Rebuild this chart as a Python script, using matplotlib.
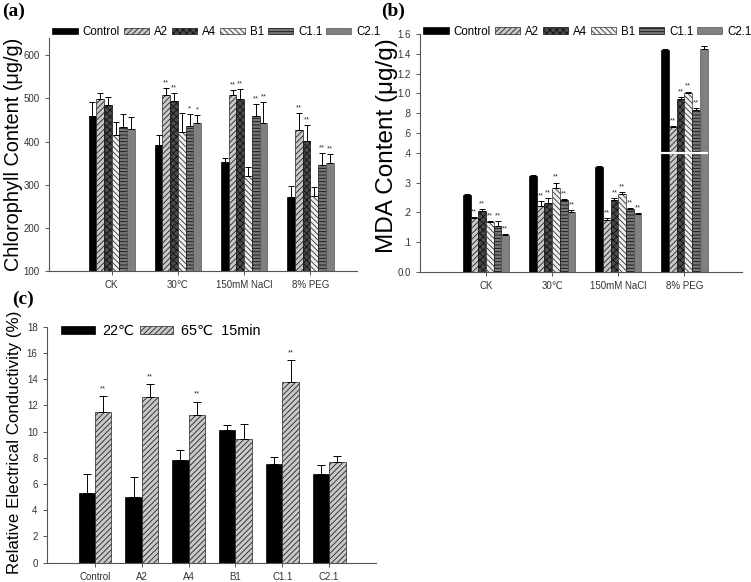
import numpy as np
import matplotlib
matplotlib.use("Agg")
import matplotlib.pyplot as plt

plt.rcParams['font.family'] = ['Liberation Sans', 'DejaVu Sans']
plt.rcParams['hatch.linewidth'] = 0.6

# ---------------- data ----------------
conditions = ["CK", "30℃", "150mM NaCl", "8% PEG"]
lines = ["Control", "A2", "A4", "B1", "C1.1", "C2.1"]

chl_control = [460, 392, 352, 271]
chl_A2 = [499, 507, 509, 427]
chl_A4 = [484, 494, 499, 402]
chl_B1 = [416, 423, 319, 273]
chl_C11 = [433, 437, 459, 345]
chl_C21 = [429, 444, 444, 350]
chl_err_control = [32, 23, 11, 26]
chl_err_A2 = [13, 17, 10, 39]
chl_err_A4 = [19, 18, 23, 36]
chl_err_B1 = [29, 44, 23, 22]
chl_err_C11 = [31, 26, 28, 28]
chl_err_C21 = [29, 17, 47, 20]
chl_sig_A2 = ["", "**", "**", "**"]
chl_sig_A4 = ["", "**", "**", "**"]
chl_sig_B1 = ["", "", "", ""]
chl_sig_C11 = ["", "*", "**", "**"]
chl_sig_C21 = ["", "*", "**", "**"]

mda_control = [0.258, 0.322, 0.352, 1.44]
mda_A2 = [0.182, 0.222, 0.174, 0.665]
mda_A4 = [0.203, 0.232, 0.242, 0.945]
mda_B1 = [0.166, 0.281, 0.262, 1.00]
mda_C11 = [0.155, 0.240, 0.211, 0.833]
mda_C21 = [0.125, 0.202, 0.194, 1.445]
mda_err_control = [0.003, 0.003, 0.003, 0.01]
mda_err_A2 = [0.003, 0.015, 0.007, 0.005]
mda_err_A4 = [0.007, 0.017, 0.005, 0.015]
mda_err_B1 = [0.004, 0.019, 0.006, 0.018]
mda_err_C11 = [0.016, 0.004, 0.003, 0.017]
mda_err_C21 = [0.002, 0.006, 0.003, 0.035]
mda_sig_A2 = ["**", "**", "**", "**"]
mda_sig_A4 = ["**", "**", "**", "**"]
mda_sig_B1 = ["**", "**", "**", "**"]
mda_sig_C11 = ["**", "**", "**", "**"]
mda_sig_C21 = ["**", "**", "**", ""]
mda_ticks = [0.0, 0.1, 0.2, 0.3, 0.4, 0.6, 0.8, 1.0, 1.2, 1.4, 1.6]
mda_ticklabels = ["0.0", ".1", ".2", ".3", ".4", ".6", ".8", "1.0", "1.2", "1.4", "1.6"]

rec_lines = ["Control", "A2", "A4", "B1", "C1.1", "C2.1"]
rec_22 = [5.3, 5.0, 7.8, 10.1, 7.5, 6.8]
rec_65 = [11.5, 12.65, 11.3, 9.4, 13.8, 7.65]
rec_err_22 = [1.5, 1.5, 0.77, 0.43, 0.58, 0.64]
rec_err_65 = [1.2, 0.94, 0.97, 1.2, 1.63, 0.49]
rec_sig_65 = ["**", "**", "**", "", "**", ""]

# ---------------- styles ----------------
styles = [
    dict(facecolor="black", edgecolor="black", hatch=None),
    dict(facecolor="#c8c8c8", edgecolor="#222222", hatch="//////"),
    dict(facecolor="#4a4a4a", edgecolor="#111111", hatch="xxxxx"),
    dict(facecolor="#f0f0f0", edgecolor="#333333", hatch="\\\\\\\\\\\\"),
    dict(facecolor="#777777", edgecolor="#111111", hatch="-----"),
    dict(facecolor="#808080", edgecolor="#555555", hatch=None),
]
TICK_C = "#555555"
LAB_C = "#333333"


def style_axes(ax):
    for s in ("top", "right"):
        ax.spines[s].set_visible(False)
    for s in ("left", "bottom"):
        ax.spines[s].set_color(TICK_C)
        ax.spines[s].set_linewidth(0.8)
    ax.tick_params(colors=TICK_C, labelcolor=LAB_C, labelsize=7, length=3, width=0.7)


def grouped(ax, series, errs, sigs, sig_pad):
    w = 0.7 / len(series)
    x = np.arange(len(conditions))
    for i, (vals, e) in enumerate(zip(series, errs)):
        pos = x + (i - (len(series) - 1) / 2) * w
        st = styles[i]
        ax.bar(pos, vals, width=w, facecolor=st["facecolor"], edgecolor=st["edgecolor"],
               hatch=st["hatch"], linewidth=0.5, label=lines[i], zorder=2)
        ax.errorbar(pos, vals, yerr=[np.zeros(len(vals)), e], fmt="none",
                    ecolor="black", elinewidth=0.7, capsize=2.2, capthick=0.7, zorder=3)
        if sigs[i] is not None:
            for p, v, ee, s in zip(pos, vals, e, sigs[i]):
                if s:
                    ax.text(p, v + ee + sig_pad(v + ee), s, ha="center", va="bottom",
                            fontsize=5.5, color="#333333")
    ax.set_xticks(x)
    ax.set_xticklabels(conditions)
    return x, w


LEG_KW = dict(loc="lower left", ncol=6, frameon=False, fontsize=8.3, handlelength=2.2,
              handleheight=0.5, handletextpad=0.45, columnspacing=0.3, borderaxespad=0.0,
              borderpad=0.3)

fig = plt.figure(figsize=(7.51, 5.82), dpi=100)

# ---------------- panel a ----------------
axA = fig.add_axes([0.065, 0.5344, 0.41, 0.4003])
style_axes(axA)
grouped(axA, [chl_control, chl_A2, chl_A4, chl_B1, chl_C11, chl_C21],
        [chl_err_control, chl_err_A2, chl_err_A4, chl_err_B1, chl_err_C11, chl_err_C21],
        [None, chl_sig_A2, chl_sig_A4, chl_sig_B1, chl_sig_C11, chl_sig_C21],
        lambda v: 4)
axA.set_ylim(100, 640)
axA.set_xlim(-0.95, 3.7)
axA.set_yticks([100, 200, 300, 400, 500, 600])
axA.set_ylabel("Chlorophyll Content (μg/g)", fontsize=14.3)
axA.yaxis.set_label_coords(-0.083, 0.5)
axA.legend(bbox_to_anchor=(0.0, 0.985), **LEG_KW)

# ---------------- panel b ----------------
axB = fig.add_axes([0.559, 0.533, 0.429, 0.4086])


def fwd(y):
    y = np.asarray(y, dtype=float)
    return np.where(y <= 0.4, y / 0.4, 1 + (y - 0.4) / 1.2)


def inv(t):
    t = np.asarray(t, dtype=float)
    return np.where(t <= 1, t * 0.4, 0.4 + (t - 1) * 1.2)


axB.set_yscale("function", functions=(fwd, inv))
style_axes(axB)
xb, wb = grouped(axB, [mda_control, mda_A2, mda_A4, mda_B1, mda_C11, mda_C21],
                 [mda_err_control, mda_err_A2, mda_err_A4, mda_err_B1, mda_err_C11, mda_err_C21],
                 [None, mda_sig_A2, mda_sig_A4, mda_sig_B1, mda_sig_C11, mda_sig_C21],
                 lambda v: 0.006 if v < 0.4 else 0.02)
axB.set_ylim(0, 1.6)
axB.set_xlim(-1.0, 3.87)
axB.set_yticks(mda_ticks)
axB.set_yticklabels(mda_ticklabels)
axB.yaxis.set_minor_locator(matplotlib.ticker.NullLocator())
axB.hlines(0.4, xb[-1] - 3.1 * wb, xb[-1] + 3.1 * wb, color="white", linewidth=1.6, zorder=4)
axB.set_ylabel("MDA Content (μg/g)", fontsize=17.5)
axB.yaxis.set_label_coords(-0.068, 0.53)
axB.legend(bbox_to_anchor=(0.0, 0.97), **LEG_KW)

# ---------------- panel c ----------------
axC = fig.add_axes([0.0622, 0.0332, 0.4385, 0.4055])
style_axes(axC)
xc = np.arange(len(rec_lines))
wc = 0.35
axC.bar(xc - wc / 2, rec_22, width=wc, facecolor="black", edgecolor="black",
        linewidth=0.5, label="22℃", zorder=2)
axC.bar(xc + wc / 2, rec_65, width=wc, facecolor="#c8c8c8", edgecolor="#222222",
        hatch="//////", linewidth=0.5, label="65℃  15min", zorder=2)
axC.errorbar(xc - wc / 2, rec_22, yerr=[np.zeros(len(rec_22)), rec_err_22], fmt="none",
             ecolor="black", elinewidth=0.7, capsize=2.8, capthick=0.7, zorder=3)
axC.errorbar(xc + wc / 2, rec_65, yerr=[np.zeros(len(rec_65)), rec_err_65], fmt="none",
             ecolor="black", elinewidth=0.7, capsize=2.8, capthick=0.7, zorder=3)
for p, v, e, s in zip(xc + wc / 2, rec_65, rec_err_65, rec_sig_65):
    if s:
        axC.text(p, v + e + 0.3, s, ha="center", va="bottom", fontsize=5.5, color="#333333")
axC.set_xticks(xc)
axC.set_xticklabels(rec_lines)
axC.set_xlim(-1.03, 6.0)
axC.set_ylim(0, 18)
axC.set_yticks(np.arange(0, 19, 2))
axC.set_ylabel("Relative Electrical Conductivity (%)", fontsize=12.2)
axC.yaxis.set_label_coords(-0.075, 0.51)
axC.legend(loc="upper left", bbox_to_anchor=(0.005, 1.065), ncol=2, frameon=False,
           fontsize=10.4, handlelength=2.3, handleheight=0.45, handletextpad=0.55,
           columnspacing=0.35)

# panel labels
for txt, x, y in [("(a)", 0.003, 0.995), ("(b)", 0.508, 0.995), ("(c)", 0.016, 0.501)]:
    fig.text(x, y, txt, fontsize=14, fontweight="bold", va="top", ha="left",
             family=["Liberation Serif", "DejaVu Serif"])

fig.savefig("out.png", dpi=100)
